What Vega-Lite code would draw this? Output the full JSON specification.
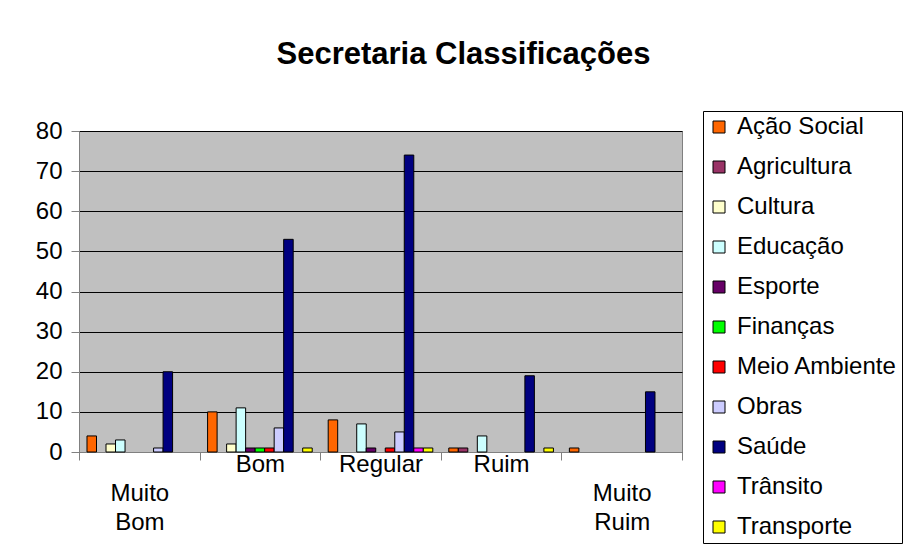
{
  "$schema": "https://vega.github.io/schema/vega-lite/v6.json",
  "width": 603,
  "height": 321,
  "autosize": {"type": "none"},
  "padding": {"left": 79, "top": 131, "right": 221, "bottom": 104},
  "background": "white",
  "title": {
    "text": "Secretaria Classificações",
    "font": "Liberation Sans",
    "fontSize": 31,
    "fontWeight": "bold",
    "color": "black",
    "anchor": "middle",
    "dx": 83,
    "offset": 40
  },
  "data": {
    "values": [
      {"cat": "Muito Bom", "serie": "Ação Social", "v": 4},
      {"cat": "Muito Bom", "serie": "Agricultura", "v": 0},
      {"cat": "Muito Bom", "serie": "Cultura", "v": 2},
      {"cat": "Muito Bom", "serie": "Educação", "v": 3},
      {"cat": "Muito Bom", "serie": "Esporte", "v": 0},
      {"cat": "Muito Bom", "serie": "Finanças", "v": 0},
      {"cat": "Muito Bom", "serie": "Meio Ambiente", "v": 0},
      {"cat": "Muito Bom", "serie": "Obras", "v": 1},
      {"cat": "Muito Bom", "serie": "Saúde", "v": 20},
      {"cat": "Muito Bom", "serie": "Trânsito", "v": 0},
      {"cat": "Muito Bom", "serie": "Transporte", "v": 0},
      {"cat": "Bom", "serie": "Ação Social", "v": 10},
      {"cat": "Bom", "serie": "Agricultura", "v": 0},
      {"cat": "Bom", "serie": "Cultura", "v": 2},
      {"cat": "Bom", "serie": "Educação", "v": 11},
      {"cat": "Bom", "serie": "Esporte", "v": 1},
      {"cat": "Bom", "serie": "Finanças", "v": 1},
      {"cat": "Bom", "serie": "Meio Ambiente", "v": 1},
      {"cat": "Bom", "serie": "Obras", "v": 6},
      {"cat": "Bom", "serie": "Saúde", "v": 53},
      {"cat": "Bom", "serie": "Trânsito", "v": 0},
      {"cat": "Bom", "serie": "Transporte", "v": 1},
      {"cat": "Regular", "serie": "Ação Social", "v": 8},
      {"cat": "Regular", "serie": "Agricultura", "v": 0},
      {"cat": "Regular", "serie": "Cultura", "v": 0},
      {"cat": "Regular", "serie": "Educação", "v": 7},
      {"cat": "Regular", "serie": "Esporte", "v": 1},
      {"cat": "Regular", "serie": "Finanças", "v": 0},
      {"cat": "Regular", "serie": "Meio Ambiente", "v": 1},
      {"cat": "Regular", "serie": "Obras", "v": 5},
      {"cat": "Regular", "serie": "Saúde", "v": 74},
      {"cat": "Regular", "serie": "Trânsito", "v": 1},
      {"cat": "Regular", "serie": "Transporte", "v": 1},
      {"cat": "Ruim", "serie": "Ação Social", "v": 1},
      {"cat": "Ruim", "serie": "Agricultura", "v": 1},
      {"cat": "Ruim", "serie": "Cultura", "v": 0},
      {"cat": "Ruim", "serie": "Educação", "v": 4},
      {"cat": "Ruim", "serie": "Esporte", "v": 0},
      {"cat": "Ruim", "serie": "Finanças", "v": 0},
      {"cat": "Ruim", "serie": "Meio Ambiente", "v": 0},
      {"cat": "Ruim", "serie": "Obras", "v": 0},
      {"cat": "Ruim", "serie": "Saúde", "v": 19},
      {"cat": "Ruim", "serie": "Trânsito", "v": 0},
      {"cat": "Ruim", "serie": "Transporte", "v": 1},
      {"cat": "Muito Ruim", "serie": "Ação Social", "v": 1},
      {"cat": "Muito Ruim", "serie": "Agricultura", "v": 0},
      {"cat": "Muito Ruim", "serie": "Cultura", "v": 0},
      {"cat": "Muito Ruim", "serie": "Educação", "v": 0},
      {"cat": "Muito Ruim", "serie": "Esporte", "v": 0},
      {"cat": "Muito Ruim", "serie": "Finanças", "v": 0},
      {"cat": "Muito Ruim", "serie": "Meio Ambiente", "v": 0},
      {"cat": "Muito Ruim", "serie": "Obras", "v": 0},
      {"cat": "Muito Ruim", "serie": "Saúde", "v": 15},
      {"cat": "Muito Ruim", "serie": "Trânsito", "v": 0},
      {"cat": "Muito Ruim", "serie": "Transporte", "v": 0}
    ]
  },
  "transform": [{"filter": "datum.v > 0"}],
  "mark": {"type": "bar", "stroke": "black", "strokeWidth": 1},
  "encoding": {
    "x": {
      "field": "cat",
      "type": "nominal",
      "sort": ["Muito Bom", "Bom", "Regular", "Ruim", "Muito Ruim"],
      "scale": {"domain": ["Muito Bom", "Bom", "Regular", "Ruim", "Muito Ruim"], "paddingInner": 0, "paddingOuter": 0},
      "axis": {
        "title": null,
        "labelAngle": 0,
        "tickBand": "extent",
        "labelExpr": "indexof(datum.label, ' ') > 0 ? split(' ' + datum.label, ' ') : datum.label",
        "labelFont": "Liberation Sans",
        "labelFontSize": 24,
        "labelColor": "black",
        "labelBaseline": "top",
        "labelLineHeight": 29,
        "labelPadding": -8,
        "tickSize": 8,
        "tickColor": "#808080",
        "domainColor": "#808080",
        "grid": false
      }
    },
    "xOffset": {
      "field": "serie",
      "type": "nominal",
      "scale": {
        "domain": ["Ação Social", "Agricultura", "Cultura", "Educação", "Esporte", "Finanças", "Meio Ambiente", "Obras", "Saúde", "Trânsito", "Transporte"],
        "paddingInner": 0,
        "paddingOuter": 0.84
      }
    },
    "y": {
      "field": "v",
      "type": "quantitative",
      "scale": {"domain": [0, 80], "nice": false},
      "axis": {
        "title": null,
        "values": [0, 10, 20, 30, 40, 50, 60, 70, 80],
        "labelFont": "Liberation Sans",
        "labelFontSize": 24,
        "labelColor": "black",
        "labelPadding": 9,
        "tickSize": 8,
        "tickColor": "#808080",
        "domainColor": "#808080",
        "grid": true,
        "gridColor": "black",
        "gridOpacity": 1,
        "gridWidth": 1
      }
    },
    "color": {
      "field": "serie",
      "type": "nominal",
      "scale": {
        "domain": ["Ação Social", "Agricultura", "Cultura", "Educação", "Esporte", "Finanças", "Meio Ambiente", "Obras", "Saúde", "Trânsito", "Transporte"],
        "range": ["#FF6600", "#993366", "#FFFFCC", "#CCFFFF", "#660066", "#00FF00", "#FF0000", "#CCCCFF", "#000080", "#FF00FF", "#FFFF00"]
      },
      "legend": {
        "orient": "none",
        "legendX": 624,
        "legendY": -20,
        "title": null,
        "symbolType": "square",
        "symbolSize": 144,
        "symbolStrokeColor": "black",
        "symbolStrokeWidth": 1,
        "symbolOpacity": 1,
        "labelFont": "Liberation Sans",
        "labelFontSize": 24,
        "labelColor": "black",
        "labelOffset": 6,
        "rowPadding": 16,
        "strokeColor": "black",
        "padding": 4,
        "labelLimit": 300
      }
    }
  },
  "config": {
    "view": {"fill": "#C0C0C0", "stroke": "#808080", "strokeWidth": 1}
  }
}
